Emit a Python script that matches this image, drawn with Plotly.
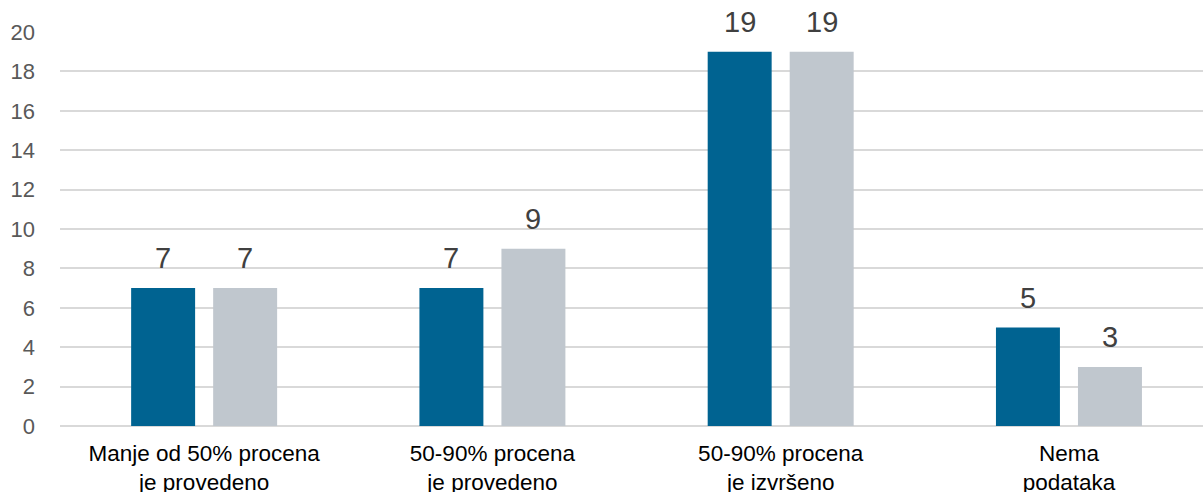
import plotly.graph_objects as go

categories = ["Manje od 50% procena<br>je provedeno",
              "50-90% procena<br>je provedeno",
              "50-90% procena<br>je izvršeno",
              "Nema<br>podataka"]
series_a = [7, 7, 19, 5]
series_b = [7, 9, 19, 3]
y_ticks = [0, 2, 4, 6, 8, 10, 12, 14, 16, 18, 20]

BLUE = "#006391"
GRAY = "#C0C7CE"
FONT = "Liberation Sans, Arial, sans-serif"

fig = go.Figure()
for name, vals, color in [("A", series_a, BLUE), ("B", series_b, GRAY)]:
    fig.add_trace(go.Bar(
        x=categories, y=vals, name=name,
        marker=dict(color=color, line=dict(width=0)),
        cliponaxis=False,
    ))

# value labels above each bar, offset to the bar's slot in its group
for vals, shift in [(series_a, -41), (series_b, 41)]:
    for cat, v in zip(categories, vals):
        fig.add_annotation(
            x=cat, y=v, text=str(v), showarrow=False,
            xanchor="center", yanchor="bottom", xshift=shift, yshift=12,
            font=dict(family=FONT, size=29, color="#404040"),
        )

fig.update_layout(
    width=1203, height=492,
    margin=dict(l=60, r=0, t=32, b=66),
    paper_bgcolor="white", plot_bgcolor="white",
    showlegend=False,
    barmode="group", bargap=0.431, bargroupgap=0.22,
    font=dict(family=FONT),
)
fig.update_xaxes(
    range=[-0.5, 3.465], automargin=False,
    tickfont=dict(family=FONT, size=22.5, color="#000000"),
    showgrid=False, showline=False, ticks="", ticklabelstandoff=11,
)
fig.update_yaxes(
    range=[0, 20], tickvals=y_ticks, automargin=False,
    tickfont=dict(family=FONT, size=22, color="#595959"),
    showgrid=True, gridcolor="#D9D9D9", gridwidth=2,
    zeroline=True, zerolinecolor="#D9D9D9", zerolinewidth=2,
    showline=False, ticks="", ticklabelstandoff=24,
)

fig.write_html("out.html")
